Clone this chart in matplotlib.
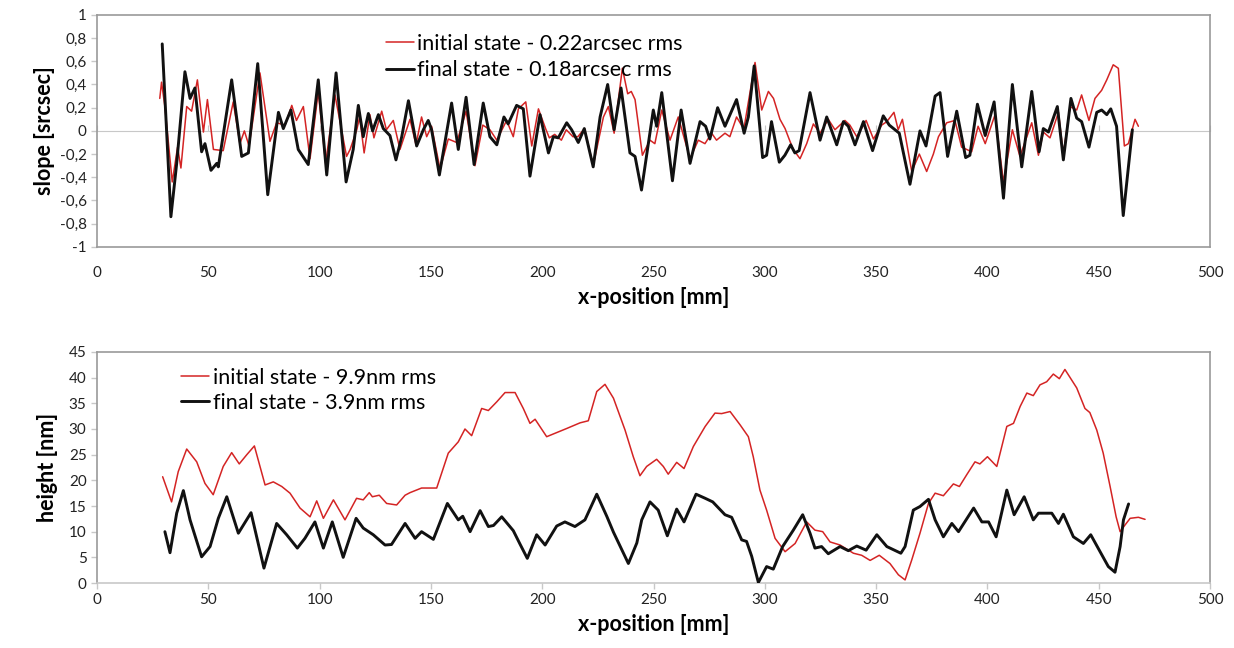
import matplotlib
matplotlib.use('Agg')
import matplotlib.pyplot as plt
import numpy as np

plt.rcParams['font.family'] = ['Lato', 'DejaVu Sans']

# --- slope data (arcsec) ---
slope_init_x = [28.2, 29.0, 30.5, 33.8, 36.2, 37.7, 40.3, 42.5, 45.1, 47.8, 49.6, 52.3, 56.7, 61.2, 64.2,
                66.2, 68.3, 73.2, 77.7, 80.7, 84.5, 87.5, 89.6, 92.7, 95.7, 99.4, 102.7, 106.9, 112.1, 113.7,
                116.7, 118.0, 120.0, 122.6, 124.4, 127.9, 130.0, 133.1, 136.1, 140.6, 143.3, 145.8, 148.1,
                150.3, 154.1, 157.8, 161.6, 165.8, 169.8, 173.3, 176.5, 179.6, 184.0, 187.0, 189.3, 192.6,
                195.3, 198.3, 201.5, 203.2, 205.6, 208.6, 210.8, 213.8, 216.0, 219.0, 222.9, 227.5, 229.7,
                232.3, 236.0, 238.4, 240.0, 241.7, 245.0, 248.4, 250.6, 253.7, 257.4, 261.1, 266.4, 270.1,
                273.1, 276.1, 278.3, 282.1, 284.3, 287.3, 289.5, 290.7, 295.6, 298.6, 301.6, 303.9, 306.8,
                309.1, 311.3, 312.8, 315.8, 318.8, 321.8, 324.8, 328.5, 331.5, 336.0, 338.2, 341.3, 345.5,
                348.8, 352.5, 354.8, 358.0, 359.9, 361.8, 366.0, 369.4, 372.7, 375.7, 378.0, 381.7, 385.4,
                388.4, 392.9, 395.8, 399.0, 403.4, 407.2, 411.2, 414.6, 419.9, 422.9, 425.1, 428.1, 431.9,
                434.1, 437.1, 440.1, 442.3, 445.6, 448.3, 451.3, 453.6, 456.5, 458.8, 461.5, 463.3, 466.3, 467.8]
slope_init_y = [0.28, 0.42, 0.21, -0.44, -0.14, -0.32, 0.21, 0.17, 0.44, -0.01, 0.27, -0.16, -0.17, 0.25, -0.11,
                0.0, -0.13, 0.50, -0.09, 0.07, 0.05, 0.22, 0.09, 0.21, -0.24, 0.34, -0.28, 0.31, -0.22, -0.16,
                0.01, 0.12, -0.19, 0.14, -0.06, 0.17, 0.01, 0.09, -0.16, 0.10, -0.12, 0.12, -0.05,
                0.04, -0.33, -0.07, -0.10, 0.17, -0.30, 0.05, 0.01, -0.08, 0.09, -0.05, 0.19, 0.25,
                -0.13, 0.19, 0.02, -0.06, -0.03, -0.08, 0.01, -0.05, -0.05, 0.02, -0.30, 0.12, 0.21,
                -0.02, 0.54, 0.32, 0.34, 0.27, -0.21, -0.08, -0.11, 0.18, -0.08, 0.12, -0.24, -0.08,
                -0.11, -0.02, -0.08, -0.02, -0.05, 0.12, 0.05, 0.03, 0.59, 0.18, 0.34, 0.28, 0.10,
                0.02, -0.09, -0.16, -0.24, -0.11, 0.06, -0.02, 0.10, 0.01, 0.09, 0.05, -0.05, 0.09,
                -0.07, 0.05, 0.08, 0.16, 0.01, 0.10, -0.35, -0.20, -0.35, -0.20, -0.05, 0.07, 0.09,
                -0.14, -0.18, 0.04, -0.11, 0.14, -0.44, 0.01, -0.22, 0.07, -0.21, -0.01, -0.06, 0.16,
                -0.20, 0.21, 0.18, 0.31, 0.09, 0.28, 0.35, 0.44, 0.57, 0.54, -0.13, -0.11, 0.10, 0.04]

slope_final_x = [29.3, 33.2, 35.8, 39.5, 41.8, 44.0, 47.0, 48.5, 51.2, 53.8, 54.5, 60.5, 65.0, 68.0, 72.2,
                 76.7, 81.5, 83.7, 87.1, 90.4, 94.9, 99.4, 103.2, 107.4, 111.9, 115.1, 117.4, 119.6, 121.9,
                 123.8, 126.4, 128.6, 131.6, 134.3, 136.9, 139.9, 143.6, 146.6, 148.8, 150.3, 153.8, 159.3,
                 162.3, 165.8, 169.4, 173.5, 176.5, 179.6, 182.8, 184.7, 188.5, 191.5, 194.5, 199.0, 202.8,
                 205.0, 207.2, 211.0, 213.2, 216.2, 218.9, 222.9, 226.0, 229.4, 232.3, 235.4, 239.4, 241.7,
                 244.6, 249.9, 251.4, 253.7, 258.5, 262.4, 266.4, 270.9, 273.4, 275.3, 278.8, 282.1, 287.3,
                 290.7, 292.6, 295.2, 297.1, 299.0, 300.8, 303.0, 306.5, 309.0, 311.6, 313.5, 315.4, 320.3,
                 324.8, 327.8, 332.3, 335.3, 337.5, 340.5, 344.3, 348.4, 353.2, 355.9, 360.4, 365.2, 369.7,
                 372.4, 376.5, 378.7, 382.1, 386.2, 390.2, 392.1, 395.5, 399.0, 403.0, 407.2, 411.2, 415.4,
                 419.9, 423.2, 425.1, 427.4, 431.4, 434.1, 437.5, 440.1, 442.3, 445.6, 449.1, 451.3, 453.6,
                 455.4, 458.0, 461.0, 465.1]
slope_final_y = [0.75, -0.74, -0.28, 0.51, 0.28, 0.37, -0.18, -0.11, -0.34, -0.28, -0.31, 0.44, -0.22, -0.19, 0.58,
                 -0.55, 0.16, 0.02, 0.18, -0.16, -0.29, 0.44, -0.38, 0.50, -0.44, -0.16, 0.22, -0.05, 0.15,
                 0.0, 0.14, 0.02, -0.04, -0.25, -0.05, 0.26, -0.13, 0.01, 0.09, 0.01, -0.38, 0.24,
                 -0.16, 0.29, -0.29, 0.24, -0.05, -0.12, 0.12, 0.06, 0.22, 0.19, -0.39, 0.14, -0.19,
                 -0.05, -0.06, 0.07, 0.01, -0.10, 0.02, -0.31, 0.12, 0.40, 0.01, 0.37, -0.19, -0.22,
                 -0.51, 0.18, 0.04, 0.33, -0.43, 0.18, -0.28, 0.08, 0.04, -0.07, 0.20, 0.04, 0.27,
                 -0.02, 0.12, 0.56, 0.16, -0.23, -0.21, 0.08, -0.27, -0.21, -0.12, -0.19, -0.17, 0.33,
                 -0.08, 0.12, -0.12, 0.08, 0.04, -0.12, 0.08, -0.17, 0.13, 0.05, -0.02, -0.46, 0.0,
                 -0.13, 0.30, 0.33, -0.22, 0.17, -0.23, -0.21, 0.23, -0.04, 0.25, -0.58, 0.40, -0.31,
                 0.34, -0.18, 0.02, -0.01, 0.21, -0.25, 0.28, 0.11, 0.08, -0.14, 0.16, 0.18, 0.14,
                 0.19, 0.04, -0.73, 0.01]

# --- height data (nm) ---
height_init_x = [29.5, 33.5, 36.5, 40.3, 44.8, 48.5, 52.2, 56.7, 60.5, 63.9, 67.3, 70.7, 75.5, 79.2, 83.0,
                 86.7, 91.2, 95.7, 98.7, 101.7, 106.2, 111.4, 116.6, 119.6, 122.3, 123.7, 126.8, 130.1, 134.6,
                 138.4, 140.6, 145.8, 152.6, 157.8, 162.3, 165.3, 168.3, 172.8, 175.8, 179.6, 183.3, 187.8,
                 191.5, 194.5, 196.8, 202.0, 206.5, 211.0, 217.0, 220.7, 224.5, 228.2, 232.0, 237.2, 240.9,
                 243.9, 246.9, 251.4, 254.4, 256.6, 260.4, 263.7, 267.9, 273.2, 277.6, 280.6, 284.4, 288.9,
                 292.6, 294.8, 297.8, 300.8, 304.6, 309.1, 313.6, 318.8, 322.5, 326.0, 329.3, 333.8, 339.8,
                 343.5, 347.3, 351.4, 356.2, 360.0, 363.0, 366.0, 369.7, 373.5, 376.5, 380.2, 384.7, 387.4,
                 390.7, 394.4, 396.6, 400.0, 404.2, 408.7, 411.7, 414.7, 417.7, 420.6, 423.6, 426.6, 429.6,
                 432.3, 434.8, 440.1, 443.8, 446.0, 449.1, 452.0, 455.1, 457.8, 459.6, 461.8, 464.1, 467.8, 470.8]
height_init_y = [20.7, 15.8, 21.7, 26.1, 23.6, 19.4, 17.2, 22.7, 25.4, 23.2, 25.0, 26.7, 19.1, 19.7, 18.8,
                 17.5, 14.6, 12.9, 16.0, 12.6, 16.2, 12.3, 16.5, 16.2, 17.6, 16.8, 17.1, 15.5, 15.2,
                 17.1, 17.6, 18.5, 18.5, 25.3, 27.5, 30.0, 28.7, 34.0, 33.6, 35.3, 37.1, 37.1,
                 34.0, 31.1, 31.9, 28.5, 29.3, 30.1, 31.2, 31.6, 37.3, 38.7, 36.0, 29.8, 24.6,
                 20.9, 22.7, 24.1, 22.7, 21.2, 23.5, 22.3, 26.6, 30.5, 33.1, 33.0, 33.4, 30.8,
                 28.5, 24.6, 18.1, 14.2, 8.7, 6.1, 7.7, 11.9, 10.3, 10.0, 8.0, 7.4, 5.8,
                 5.4, 4.4, 5.4, 3.8, 1.6, 0.6, 4.5, 9.7, 15.5, 17.5, 17.0, 19.3, 18.8,
                 21.1, 23.6, 23.2, 24.6, 22.7, 30.5, 31.1, 34.4, 37.0, 36.5, 38.6, 39.2, 40.7,
                 39.8, 41.6, 38.0, 34.0, 33.2, 29.8, 25.3, 18.8, 12.9, 10.0, 11.3, 12.6, 12.8, 12.4]

height_final_x = [30.5, 32.8, 35.8, 38.8, 41.8, 47.0, 50.8, 54.5, 58.3, 63.5, 69.2, 75.0, 80.7, 85.2, 90.0,
                  93.4, 97.9, 101.7, 105.7, 110.6, 116.4, 119.6, 124.1, 129.4, 132.3, 138.4, 142.9, 145.8,
                  151.1, 157.4, 162.3, 164.3, 167.6, 172.1, 175.8, 178.1, 181.8, 187.0, 190.0, 193.3, 197.5,
                  201.3, 206.5, 210.2, 214.7, 219.2, 224.5, 229.0, 232.0, 238.7, 242.5, 244.7, 248.4, 252.1,
                  256.2, 260.4, 263.7, 269.1, 273.2, 276.6, 282.1, 285.1, 289.6, 291.8, 294.1, 297.1, 300.8,
                  303.8, 308.0, 312.8, 317.0, 320.3, 322.5, 325.5, 328.5, 333.8, 337.5, 341.3, 345.5, 350.3,
                  354.8, 361.1, 363.0, 366.7, 369.7, 373.5, 376.5, 380.2, 384.0, 387.0, 393.8, 397.5, 400.5,
                  403.9, 408.7, 412.0, 416.5, 420.6, 422.9, 428.9, 431.9, 434.1, 438.6, 443.1, 446.4, 450.6,
                  454.3, 457.3, 459.6, 461.1, 463.4]
height_final_y = [10.0, 5.9, 13.6, 18.0, 12.3, 5.1, 7.1, 12.6, 16.8, 9.7, 13.7, 2.9, 11.6, 9.4, 6.8,
                  8.7, 11.9, 6.8, 11.9, 5.0, 12.6, 10.7, 9.4, 7.4, 7.5, 11.6, 8.7, 10.0,
                  8.5, 15.5, 12.3, 13.0, 10.0, 14.1, 11.0, 11.2, 12.9, 10.2, 7.6, 4.8, 9.4,
                  7.4, 11.1, 11.9, 11.0, 12.3, 17.3, 13.0, 9.9, 3.8, 7.8, 12.3, 15.8, 14.2,
                  9.2, 14.4, 11.9, 17.3, 16.5, 15.8, 13.3, 12.8, 8.4, 8.1, 5.2, 0.1, 3.2,
                  2.7, 7.1, 10.3, 13.3, 9.7, 6.8, 7.1, 5.7, 7.1, 6.3, 7.2, 6.4, 9.4,
                  7.1, 5.8, 7.1, 14.2, 14.9, 16.3, 12.3, 9.0, 11.6, 10.0, 14.6, 11.9, 11.9,
                  9.0, 18.1, 13.3, 16.8, 12.3, 13.6, 13.6, 11.6, 13.4, 9.0, 7.7, 9.4, 6.1,
                  3.2, 2.1, 7.1, 12.3, 15.4]

x_ticks = list(range(0, 501, 50))
slope_ticks = [1, 0.8, 0.6, 0.4, 0.2, 0, -0.2, -0.4, -0.6, -0.8, -1]
slope_tick_labels = ['1', '0,8', '0,6', '0,4', '0,2', '0', '-0,2', '-0,4', '-0,6', '-0,8', '-1']
height_ticks = list(range(0, 46, 5))

RED = '#d42424'
BLACK = '#111111'
FRAME = '#9a9a9a'
AXIS = '#c8c8c8'
LEGEND_FS = 15.5
LABEL_FS = 15.5

fig = plt.figure(figsize=(12.34, 6.48), dpi=100)
ax1 = fig.add_axes([0.0786, 0.619, 0.902, 0.358])
ax2 = fig.add_axes([0.0786, 0.1003, 0.902, 0.3565])


def style_axes(ax):
    for s in ax.spines.values():
        s.set_color(FRAME)
        s.set_linewidth(1.2)
    ax.tick_params(axis='both', labelsize=11, colors='#222222', length=4, width=1)
    ax.tick_params(axis='x', color=AXIS)
    ax.tick_params(axis='y', color=AXIS)
    ax.set_xlim(0, 500)
    ax.set_xticks(x_ticks)
    ax.set_xlabel('x-position [mm]', fontsize=LABEL_FS, fontweight='bold', labelpad=5)


line_kw = dict(solid_joinstyle='round', solid_capstyle='round')

# Plot 1: slope
ax1.plot(slope_init_x, slope_init_y, color=RED, lw=1.1, label='initial state - 0.22arcsec rms', zorder=3, **line_kw)
ax1.plot(slope_final_x, slope_final_y, color=BLACK, lw=2.1, label='final state - 0.18arcsec rms', zorder=4, **line_kw)
style_axes(ax1)
ax1.set_ylim(-1, 1)
ax1.set_yticks(slope_ticks)
ax1.set_yticklabels(slope_tick_labels)
ax1.set_ylabel('slope [srcsec]', fontsize=LABEL_FS, fontweight='bold', labelpad=3)
ax1.tick_params(axis='x', length=0, pad=14)
# zero axis line with its own tick marks (Excel style)
zero_ax = ax1.secondary_xaxis(0.5)
zero_ax.set_xticks(x_ticks)
zero_ax.tick_params(axis='x', length=4, color=AXIS, labelbottom=False, labeltop=False)
zero_ax.spines['bottom'].set_color(AXIS)
zero_ax.spines['bottom'].set_linewidth(1.2)
zero_ax.spines['top'].set_color(AXIS)
zero_ax.set_xticklabels([])
ax1.legend(loc='upper left', bbox_to_anchor=(0.252, 0.955), frameon=False, fontsize=LEGEND_FS,
           handlelength=1.3, handletextpad=0.15, labelspacing=0.3, borderaxespad=0)

# Plot 2: height
ax2.plot(height_init_x, height_init_y, color=RED, lw=1.1, label='initial state - 9.9nm rms', zorder=3, **line_kw)
ax2.plot(height_final_x, height_final_y, color=BLACK, lw=2.1, label='final state - 3.9nm rms', zorder=4, **line_kw)
style_axes(ax2)
ax2.spines['bottom'].set_color(AXIS)
ax2.set_ylim(0, 45)
ax2.set_yticks(height_ticks)
ax2.set_ylabel('height [nm]', fontsize=LABEL_FS, fontweight='bold', labelpad=8)
ax2.legend(loc='upper left', bbox_to_anchor=(0.068, 0.97), frameon=False, fontsize=LEGEND_FS,
           handlelength=1.3, handletextpad=0.15, labelspacing=0.25, borderaxespad=0)

plt.savefig('out.png', dpi=100, facecolor='white')
